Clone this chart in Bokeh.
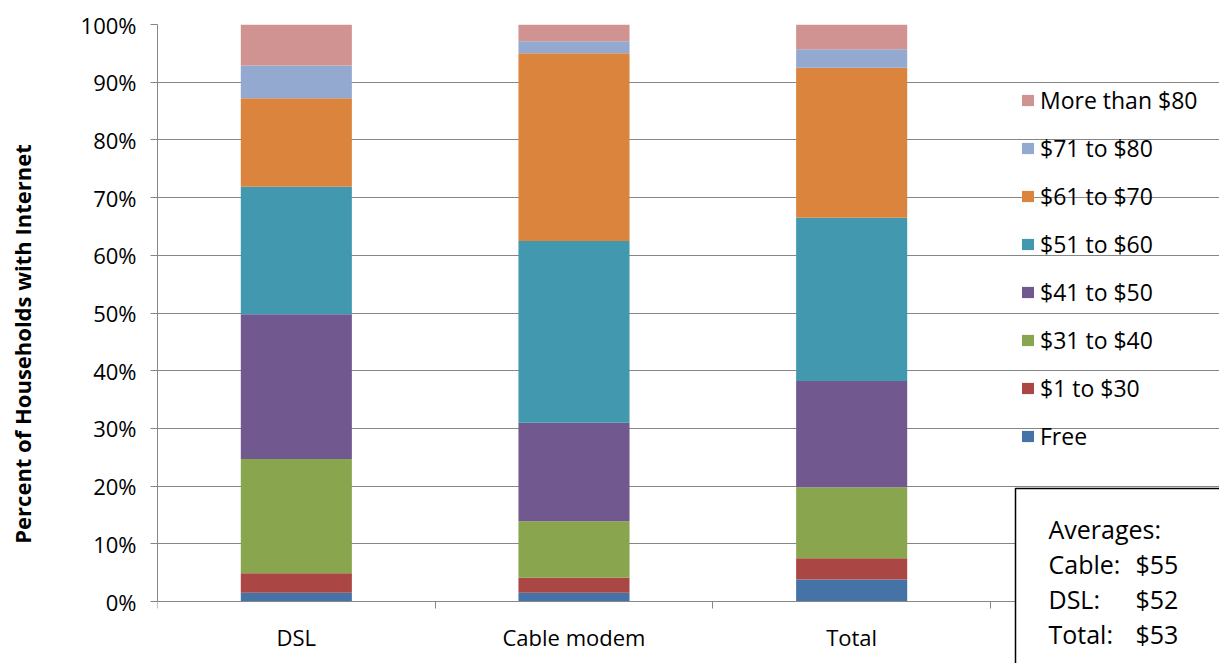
from bokeh.plotting import figure
from bokeh.models import (ColumnDataSource, Range1d, FixedTicker, Legend, LegendItem, Label)
from bokeh.embed import file_html
from bokeh.resources import INLINE

categories = ["DSL", "Cable modem", "Total"]
price_bands = ["Free", "$1 to $30", "$31 to $40", "$41 to $50",
               "$51 to $60", "$61 to $70", "$71 to $80", "More than $80"]
free = [1.5, 1.5, 3.8]
p1_30 = [3.4, 2.6, 3.7]
p31_40 = [19.8, 9.8, 12.3]
p41_50 = [25.1, 17.1, 18.4]
p51_60 = [22.1, 31.5, 28.3]
p61_70 = [15.3, 32.5, 26.0]
p71_80 = [5.7, 2.1, 3.2]
over_80 = [7.1, 3.0, 4.3]
y_ticks = [0, 10, 20, 30, 40, 50, 60, 70, 80, 90, 100]
avg_title = "Averages:"
avg_names = ["Cable:", "DSL:", "Total:"]
avg_values = ["$55", "$52", "$53"]

colors = ["#4572A7", "#AA4643", "#89A54E", "#71588F",
          "#4198AF", "#DB843D", "#93A9CF", "#D19392"]

FONT = "Open Sans"
GRID = "#868686"

# page geometry (pixels)
W, H = 1219, 663
LEFT, TOP = 157, 24          # plot area left / top
PLOT_R, PLOT_B = 990, 601    # where the category axis ends / the 0% line
n = len(categories)
px_per_x = (PLOT_R - LEFT) / n
px_per_y = (PLOT_B - TOP) / 100.0
x_max = (W - LEFT) / px_per_x
y_min = -(H - PLOT_B) / px_per_y


def dx(px):
    return (px - LEFT) / px_per_x


def dy(py):
    return (PLOT_B - py) / px_per_y


xs = [i + 0.5 for i in range(n)]
data = dict(x=xs)
series = [free, p1_30, p31_40, p41_50, p51_60, p61_70, p71_80, over_80]
keys = []
for i, s in enumerate(series):
    k = "s%d" % i
    keys.append(k)
    data[k] = s
source = ColumnDataSource(data)

p = figure(width=W, height=H, output_backend="svg", toolbar_location=None,
           x_range=Range1d(0, x_max), y_range=Range1d(y_min, 100),
           min_border_left=LEFT, min_border_right=0, min_border_top=TOP,
           min_border_bottom=0)
p.outline_line_color = None
p.background_fill_color = "white"
p.border_fill_color = "white"

renderers = p.vbar_stack(keys, x="x", width=0.4, color=colors, source=source,
                         line_color=None)

# averages box (runs off the right and bottom edges, as in the reference)
p.quad(left=[dx(1015)], right=[x_max + 1], top=[dy(488)], bottom=[y_min - 5],
       fill_color="white", line_color="black", line_width=1.5)

# category axis, drawn on the 0% line
p.xaxis.fixed_location = 0
p.xaxis.bounds = (0, n)
p.xaxis.ticker = FixedTicker(ticks=xs, minor_ticks=list(range(n + 1)))
p.xaxis.major_label_overrides = {x: c for x, c in zip(xs, categories)}
p.xaxis.major_tick_line_color = None
p.xaxis.minor_tick_out = 7
p.xaxis.minor_tick_in = 0
p.xaxis.minor_tick_line_color = GRID
p.xaxis.axis_line_color = GRID
p.xaxis.major_label_text_font = FONT
p.xaxis.major_label_text_font_size = "22px"
p.xaxis.major_label_text_color = "black"
p.xaxis.major_label_standoff = 13

p.yaxis.bounds = (0, 100)
p.yaxis.ticker = FixedTicker(ticks=y_ticks)
p.yaxis.major_label_overrides = {t: "%d%%" % t for t in y_ticks}
p.yaxis.major_tick_out = 7
p.yaxis.major_tick_in = 0
p.yaxis.minor_tick_line_color = None
p.yaxis.major_tick_line_color = GRID
p.yaxis.axis_line_color = GRID
p.yaxis.major_label_text_font = FONT
p.yaxis.major_label_text_font_size = "22px"
p.yaxis.major_label_text_color = "black"
p.yaxis.major_label_standoff = 14
p.yaxis.axis_label = "Percent of Households with Internet"
p.yaxis.axis_label_text_font = FONT
p.yaxis.axis_label_text_font_style = "bold"
p.yaxis.axis_label_text_font_size = "22px"
p.yaxis.axis_label_text_color = "black"
p.yaxis.axis_label_standoff = 41

p.xgrid.grid_line_color = None
p.ygrid.ticker = FixedTicker(ticks=y_ticks)
p.ygrid.bounds = (0, n)
p.ygrid.grid_line_color = GRID
p.ygrid.grid_line_width = 1

# legend (reverse order like the reference)
items = [LegendItem(label=price_bands[i], renderers=[renderers[i]])
         for i in reversed(range(len(price_bands)))]
legend = Legend(items=items, location=(1020 - LEFT, H - 452))
legend.label_text_font = FONT
legend.label_text_font_size = "23px"
legend.label_text_color = "black"
legend.glyph_width = 15
legend.glyph_height = 14
legend.label_height = 20
legend.spacing = 16
legend.label_standoff = 5
legend.padding = 0
legend.margin = 0
legend.border_line_color = None
legend.background_fill_alpha = 0
p.add_layout(legend, "center")

baselines = [528, 563, 598, 633]
text_kw = dict(text_font=FONT, text_font_size="25px", text_color="black",
               text_align="left", text_baseline="alphabetic")
p.add_layout(Label(x=dx(1048), y=dy(baselines[0]), text=avg_title, **text_kw))
for name, val, b in zip(avg_names, avg_values, baselines[1:]):
    p.add_layout(Label(x=dx(1048), y=dy(b), text=name, **text_kw))
    p.add_layout(Label(x=dx(1135), y=dy(b), text=val, **text_kw))

open("out.html", "w").write(file_html(p, INLINE))
